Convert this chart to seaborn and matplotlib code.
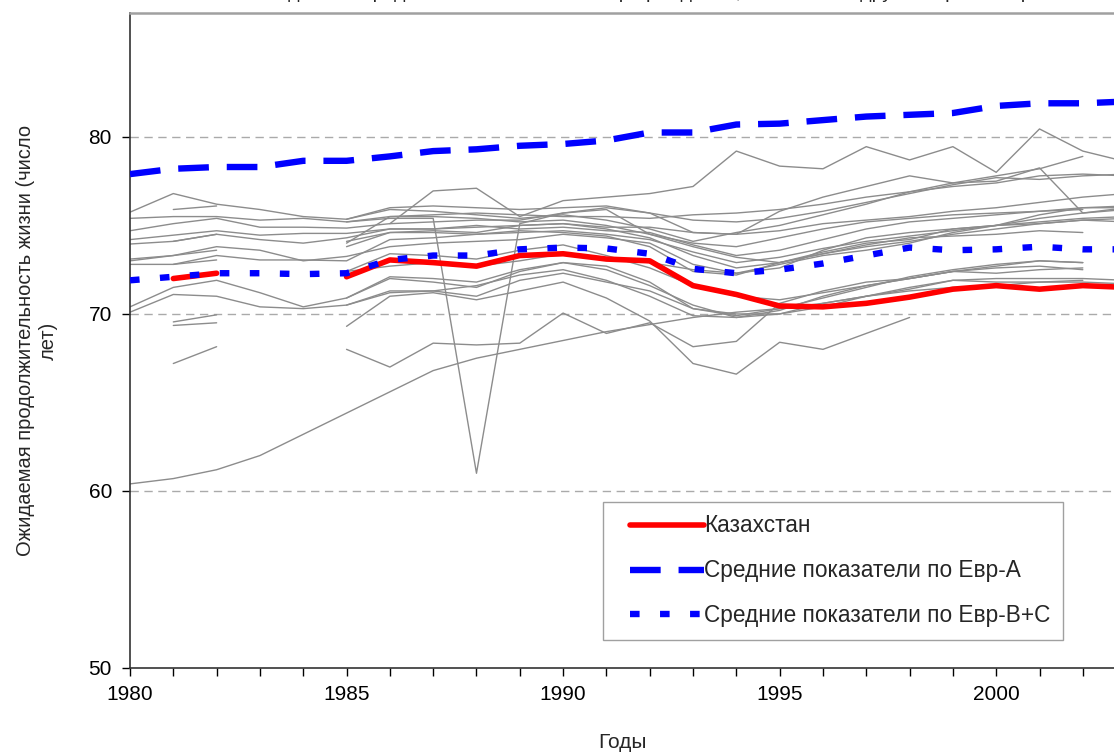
import numpy as np
import pandas as pd
import matplotlib
matplotlib.use("Agg")
import matplotlib.pyplot as plt
import seaborn as sns
from matplotlib.ticker import MultipleLocator, FixedLocator
from matplotlib.legend_handler import HandlerLine2D

N = np.nan
years = list(range(1980, 2004))

kazakhstan = [N, 72.0, 72.3, N, N, 72.1, 73.05, 72.9, 72.7, 73.3, 73.4, 73.1, 73.0, 71.6,
              71.1, 70.45, 70.4, 70.6, 70.95, 71.4, 71.6, 71.4, 71.6, 71.5]
eur_a = [77.9, 78.2, 78.3, 78.3, 78.65, 78.65, 78.9, 79.2, 79.3, 79.5, 79.6, 79.8, 80.25, 80.25,
         80.7, 80.75, 80.95, 81.15, 81.25, 81.35, 81.75, 81.9, 81.9, 82.0]
eur_bc = [71.9, 72.1, 72.3, 72.3, 72.25, 72.3, 73.05, 73.3, 73.3, 73.65, 73.75, 73.7, 73.4, 72.55,
          72.3, 72.5, 72.85, 73.3, 73.75, 73.6, 73.65, 73.8, 73.65, 73.65]

g01 = [60.4, 60.7, 61.2, 62.0, 63.2, 64.4, 65.6, 66.8, 67.5, 68.0, 68.5, 69.0, 69.4, 69.8, 70.1, 70.3, 70.6, 71.0, 71.3, 71.5, 71.6, 71.8, 71.9, N]
g02 = [N, N, N, N, N, 68.0, 67.0, 68.35, 68.25, 68.35, 70.05, 68.9, 69.5, 68.15, 68.45, 70.6, 71.3, 71.8, 72.0, 72.4, 72.3, 72.5, 72.6, N]
g03 = [N, N, N, N, N, 69.3, 71.0, 71.2, 70.8, 71.3, 71.8, 70.9, 69.6, 67.2, 66.6, 68.4, 68.0, 68.9, 69.8, N, N, N, N, N]
g04 = [N, N, N, N, N, 75.2, 75.4, 75.4, 61.0, 75.1, 75.7, 75.9, 74.5, 73.8, 73.2, 72.9, 73.5, 74.0, 74.2, 74.8, 75.0, 75.1, 75.3, 75.4]
g05 = [N, N, N, N, N, N, 75.1, 76.95, 77.1, 75.5, 76.4, 76.6, 76.8, 77.2, 79.2, 78.35, 78.2, 79.45, 78.7, 79.45, 78.0, 80.45, 79.2, 78.6]
g06 = [75.75, 76.8, 76.2, 75.9, 75.5, 75.35, 75.9, 75.8, 75.6, 75.4, 75.6, 75.3, 74.8, 74.1, 74.6, 75.0, 75.6, 76.2, 76.9, 77.4, 77.8, 78.2, 78.9, N]
g07 = [75.4, 75.5, 75.5, 75.3, 75.4, 75.2, 75.5, 75.6, 75.7, 75.6, 75.5, 75.5, 75.4, 75.6, 75.7, 75.9, 76.2, 76.6, 76.9, 77.2, 77.4, 77.8, 77.9, 77.8]
g08 = [74.7, 75.1, 75.4, 74.9, 74.9, 74.85, 75.1, 75.2, 75.3, 75.3, 75.7, 76.0, 75.7, 75.3, 75.2, 75.4, 75.8, 76.3, 76.8, 77.3, 77.7, 77.6, 77.8, 77.9]
g09 = [74.2, 74.45, 74.7, 74.45, 74.55, 74.55, 74.8, 74.8, 74.9, 75.0, 75.1, 74.9, 74.9, 74.6, 74.5, 74.7, 75.1, 75.3, 75.5, 75.8, 76.0, 76.3, 76.6, 76.8]
g10 = [73.95, 74.1, 74.5, 74.2, 74.0, 74.3, 74.8, 74.8, 75.0, 74.8, 74.9, 74.7, 74.6, 73.9, 73.3, 73.6, 74.2, 74.8, 75.2, 75.4, 75.6, 75.8, 76.0, 76.0]
g11 = [73.1, 73.3, 73.8, 73.6, 73.0, 73.25, 73.8, 74.0, 74.1, 74.2, 74.5, 74.3, 74.0, 72.8, 72.3, 72.6, 73.6, 74.3, 74.6, 74.8, 75.0, 75.2, 75.4, 75.5]
g12 = [72.8, 72.8, 73.3, 73.05, 73.05, 73.0, 74.2, 74.3, 74.5, 74.7, 74.6, 74.4, 73.8, 72.4, 72.2, 72.9, 73.4, 73.9, 74.3, 74.4, 74.5, 74.7, 74.6, N]
g13 = [70.4, 71.5, 71.9, 71.2, 70.4, 70.9, 72.0, 71.8, 71.5, 72.4, 72.9, 72.5, 71.6, 70.5, 69.8, 70.2, 71.0, 71.6, 72.0, 72.4, 72.6, 72.7, 72.5, N]
g14 = [70.1, 71.1, 71.0, 70.4, 70.3, 70.5, 71.2, 71.3, 71.0, 71.9, 72.3, 71.8, 71.3, 70.3, 70.0, 70.0, 70.6, 71.0, 71.4, 71.9, 72.0, 72.0, 72.0, 71.9]
g15 = [N, 75.9, 76.1, N, N, 74.0, 75.5, 75.5, 75.4, 75.2, 75.3, 75.0, 74.5, 74.0, 73.8, 74.3, 74.8, 75.2, 75.4, 75.6, 75.7, 75.8, 75.9, N]
g16 = [N, 74.1, 74.5, N, N, 74.1, 74.6, 74.6, 74.5, 74.6, 74.7, 74.5, 74.2, 73.5, 72.9, 73.2, 73.7, 74.1, 74.4, 74.7, 75.0, 75.4, 75.7, 75.9]
g17 = [N, 72.8, 73.05, N, N, 72.4, 73.4, 73.3, 73.1, 73.6, 73.9, 73.3, 72.6, 71.6, 71.0, 70.8, 71.2, 71.6, 72.0, 72.4, 72.7, 73.0, 72.9, N]
g18 = [N, 69.55, 69.95, N, N, 70.9, 72.1, 72.0, 71.8, 72.5, 72.9, 72.7, 71.8, 70.3, 69.9, 70.3, 70.9, 71.5, 72.1, 72.5, 72.8, 73.0, 72.9, N]
g19 = [N, 69.35, 69.5, N, N, 70.5, 71.3, 71.3, 71.6, 72.2, 72.5, 71.9, 71.0, 69.9, 69.8, 70.0, 70.4, 71.0, 71.5, 71.9, 71.8, 71.8, 71.8, 71.7]
g20 = [N, 67.2, 68.15, N, N, 72.4, 72.7, 72.9, 72.7, 73.0, 73.4, 73.1, 72.9, 72.5, 72.3, 72.8, 73.3, 73.6, 74.0, 74.6, 75.0, 75.6, 76.0, 76.1]
g21 = [N, N, N, N, N, 75.35, 76.0, 76.1, 76.0, 75.9, 76.0, 76.1, 75.7, 74.6, 74.5, 75.8, 76.6, 77.2, 77.8, 77.4, 77.5, 78.25, 75.7, 76.0]
g22 = [73.0, 73.3, 73.6, N, N, 73.8, 74.6, 74.7, 74.6, 75.0, 75.1, 74.8, 74.3, 73.3, 72.6, 72.9, 73.4, 73.8, 74.1, 74.5, 74.8, 75.1, 75.3, 75.2]
others = [g01, g02, g03, g04, g05, g06, g07, g08, g09, g10, g11, g12, g13, g14, g15,
          g16, g17, g18, g19, g20, g21, g22]

labels = ["Казахстан", "Средние показатели по Евр-А", "Средние показатели по Евр-В+С"]
title = "Ожидаемая продолжительность жизни при рождении, Казахстан и другие страны Евр-В+С"


def frame(vals, name):
    df = pd.DataFrame({"year": years, "value": vals})
    df["seg"] = df["value"].isna().cumsum()
    df["name"] = name
    return df.dropna()


sns.set_theme(style="white")
plt.rcParams["font.family"] = ["Liberation Sans", "DejaVu Sans"]

fig = plt.figure(figsize=(11.14, 7.52), dpi=100)
ax = fig.add_axes([130 / 1114, 84 / 752, 984 / 1114, 655 / 752])

for i, g in enumerate(others):
    d = frame(g, f"c{i}")
    sns.lineplot(data=d, x="year", y="value", units="seg", estimator=None,
                 color="#8c8c8c", lw=1.0, ax=ax, legend=False)

handles = []
d = frame(kazakhstan, labels[0])
sns.lineplot(data=d, x="year", y="value", units="seg", estimator=None,
             color="#ff0000", lw=4.0, ax=ax, legend=False, zorder=5,
             solid_capstyle="round")
handles.append(ax.get_lines()[-1])
d = frame(eur_a, labels[1])
sns.lineplot(data=d, x="year", y="value", units="seg", estimator=None,
             color="#0000ff", lw=4.6, ax=ax, legend=False, zorder=5,
             linestyle=(0, (4.8, 2.8)))
handles.append(ax.get_lines()[-1])
d = frame(eur_bc, labels[2])
sns.lineplot(data=d, x="year", y="value", units="seg", estimator=None,
             color="#0000ff", lw=4.6, ax=ax, legend=False, zorder=5,
             linestyle=(0, (1.5, 3.2)))
handles.append(ax.get_lines()[-1])

ax.set_xlim(1980, 2002.72)
ax.set_ylim(50, 87)
ax.yaxis.set_major_locator(FixedLocator([50, 60, 70, 80]))
ax.xaxis.set_major_locator(FixedLocator([1980, 1985, 1990, 1995, 2000]))
ax.xaxis.set_minor_locator(MultipleLocator(1))
ax.tick_params(axis="both", which="both", direction="out", colors="#000000",
               labelsize=15, length=6, width=1.0, left=True, bottom=True)
ax.tick_params(axis="x", which="both", pad=6)
ax.tick_params(axis="y", pad=7)

for v in [60, 70, 80]:
    ax.axhline(v, color="#aaaaaa", lw=1.0, ls=(0, (6, 4)), zorder=0)

for s in ["left", "bottom"]:
    ax.spines[s].set_color("#333333")
    ax.spines[s].set_linewidth(1.2)
ax.spines["top"].set_color("#a0a0a0")
ax.spines["top"].set_linewidth(1.8)
ax.spines["right"].set_visible(False)

ax.set_xlabel("Годы", fontsize=15, labelpad=21)
ax.set_ylabel("Ожидаемая продолжительность жизни (число\nлет)", fontsize=14.5,
              labelpad=22, linespacing=1.25)

hmap = {h: HandlerLine2D(xpad=0.62) for h in handles}
leg = ax.legend(handles, labels, loc="lower left", bbox_to_anchor=(0.481, 0.043),
                fontsize=16.3, frameon=True, fancybox=False, handlelength=3.9,
                handletextpad=0.0, borderpad=0.55, labelspacing=0.97,
                borderaxespad=0, edgecolor="#888888", handler_map=hmap)
leg.get_frame().set_linewidth(1.0)

fig.text(0.595, 1 + 1.5 / 752, title, ha="center", va="baseline", fontsize=14)

fig.savefig("out.png", dpi=100)
